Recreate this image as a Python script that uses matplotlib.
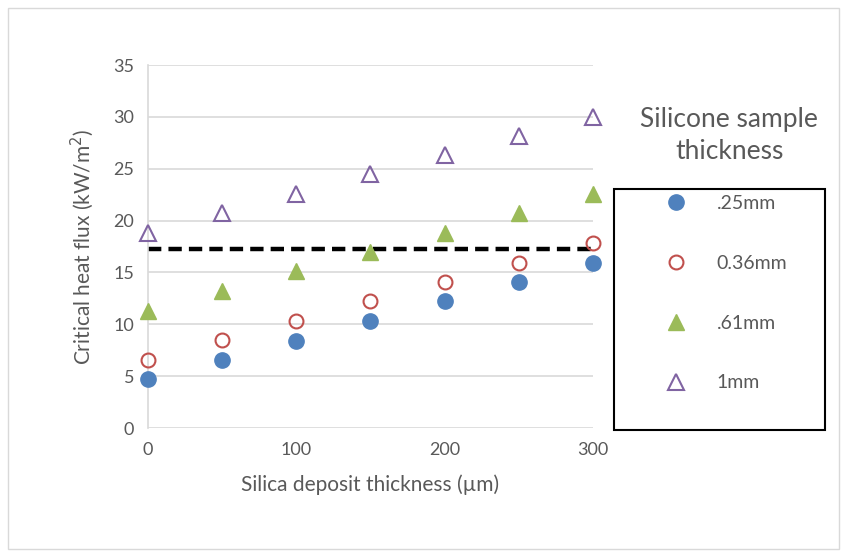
import matplotlib.pyplot as plt
from matplotlib.patches import Rectangle

# silica deposit thickness (um)
x = [0, 50, 100, 150, 200, 250, 300]
# critical heat flux (kW/m^2) per silicone sample thickness
s025 = [4.7, 6.6, 8.4, 10.3, 12.2, 14.1, 15.9]
s036 = [6.6, 8.5, 10.3, 12.2, 14.1, 15.9, 17.8]
s061 = [11.3, 13.2, 15.1, 17.0, 18.8, 20.7, 22.6]
s100 = [18.8, 20.7, 22.6, 24.5, 26.3, 28.2, 30.0]
ref_x = [0, 300]
ref_y = [17.3, 17.3]

plt.rcParams['font.family'] = ['Lato', 'DejaVu Sans']
txt = '#595959'

fig = plt.figure(figsize=(8.43, 5.52), dpi=100)
# outer chart border
fig.patches.append(Rectangle((0.01, 0.005), 0.985, 0.98, transform=fig.transFigure,
                             fill=False, edgecolor='#d9d9d9', linewidth=1))
# legend box
fig.patches.append(Rectangle((0.7284, 0.221), 0.2503, 0.4366, transform=fig.transFigure,
                             fill=False, edgecolor='black', linewidth=1.5))
ax = fig.add_axes([0.1756, 0.2246, 0.5278, 0.6576])

ax.plot(ref_x, ref_y, color='black', linestyle=(0, (3, 1.6)), linewidth=3.2, zorder=2)
ax.plot(x, s025, 'o', color='#4F81BD', markersize=11, label='.25mm', clip_on=False, zorder=3)
ax.plot(x, s036, 'o', markerfacecolor='none', markeredgecolor='#C0504D', markeredgewidth=1.5,
        markersize=10, label='0.36mm', clip_on=False, zorder=3)
ax.plot(x, s061, '^', color='#9BBB59', markersize=11, label='.61mm', clip_on=False, zorder=3)
ax.plot(x, s100, '^', markerfacecolor='none', markeredgecolor='#8064A2', markeredgewidth=1.5,
        markersize=11, label='1mm', clip_on=False, zorder=3)

ax.set_xlim(0, 300)
ax.set_ylim(0, 35)
ax.set_xticks(range(0, 301, 100))
ax.set_yticks(range(0, 36, 5))
ax.yaxis.grid(True, color='#d9d9d9', linewidth=1.2)
ax.set_axisbelow(True)
for sp in ['top', 'right', 'bottom']:
    ax.spines[sp].set_visible(False)
ax.spines['left'].set_color('#d9d9d9')
ax.spines['left'].set_linewidth(1.2)
ax.tick_params(length=0, labelsize=13, colors=txt, pad=10)
ax.set_xlabel('Silica deposit thickness (µm)', fontsize=15, color=txt, labelpad=12)
ax.set_ylabel('Critical heat flux (kW/m$^2$)', fontsize=15, color=txt, labelpad=12)

fig.text(0.865, 0.755, 'Silicone sample\nthickness', ha='center', va='center',
         fontsize=19, color=txt, linespacing=1.35)
handles, labels = ax.get_legend_handles_labels()
leg = fig.legend(handles, labels, loc='upper left', bbox_to_anchor=(0.790, 0.6467),
                 bbox_transform=fig.transFigure, frameon=False, fontsize=14,
                 labelcolor=txt, labelspacing=2.2, handlelength=1, handletextpad=1.6,
                 borderpad=0, borderaxespad=0)

fig.savefig('out.png', dpi=100)
